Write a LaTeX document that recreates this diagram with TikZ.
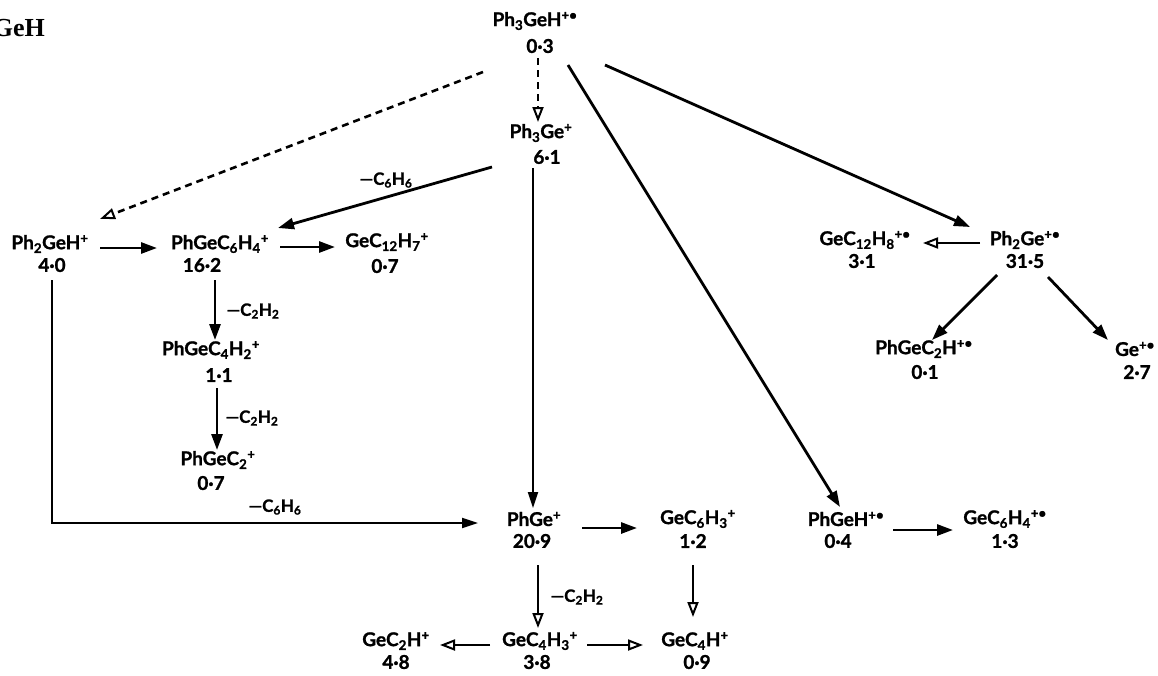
\documentclass[tikz,border=0pt]{standalone}
\usepackage{fontspec}
\setmainfont{Lato}[BoldFeatures={FakeBold=1.2}]
\newfontfamily\titlefont{Liberation Serif}
\usetikzlibrary{arrows.meta}
\begin{document}
\begin{tikzpicture}[x=1pt,y=-1pt,
  sp/.style={inner sep=0pt, font=\fontsize{19}{19}\selectfont\bfseries},
  num/.style={inner sep=0pt, font=\fontsize{19}{19}\selectfont\bfseries},
  lab/.style={inner sep=0pt, font=\fontsize{17}{17}\selectfont\bfseries},
  arr/.style={line width=2.8pt, -{Triangle[length=16pt,width=11pt]}},
  oarr/.style={line width=2.8pt, -{Triangle[open,length=15pt,width=11pt,line width=2pt]}},
  thinarr/.style={line width=2.1pt, -{Triangle[length=16pt,width=10pt]}},
  dsh/.style={line width=2.6pt, dash pattern=on 7pt off 5pt, -{Triangle[open,length=15pt,width=11pt,line width=2pt]}}]
\useasboundingbox (0,0) rectangle (1158,675);
\fill[white] (0,0) rectangle (1158,675);

\node[anchor=east, inner sep=0pt, font=\fontsize{26}{26}\selectfont\titlefont\bfseries] (title) at (45,28) {GeH};

% species
\node[sp] (A) at (535,21) {Ph\textsubscript{3}GeH\textsuperscript{+•}};
\node[num] (An) at (540,46) {0·3};
\node[sp] (B) at (541,133) {Ph\textsubscript{3}Ge\textsuperscript{+}};
\node[num] (Bn) at (547,157) {6·1};
\node[sp] (C) at (50,244) {Ph\textsubscript{2}GeH\textsuperscript{+}};
\node[num] (Cn) at (52,265) {4·0};
\node[sp] (D) at (220,244) {PhGeC\textsubscript{6}H\textsubscript{4}\textsuperscript{+}};
\node[num] (Dn) at (202,265) {16·2};
\node[sp] (E) at (387,242) {GeC\textsubscript{12}H\textsubscript{7}\textsuperscript{+}};
\node[num] (En) at (385,266) {0·7};
\node[sp] (F) at (211,350) {PhGeC\textsubscript{4}H\textsubscript{2}\textsuperscript{+}};
\node[num] (Fn) at (219,375) {1·1};
\node[sp] (G) at (218,460) {PhGeC\textsubscript{2}\textsuperscript{+}};
\node[num] (Gn) at (211,483) {0·7};
\node[sp] (H) at (865,240) {GeC\textsubscript{12}H\textsubscript{8}\textsuperscript{+•}};
\node[num] (Hn) at (862,261) {3·1};
\node[sp] (I) at (1025,240) {Ph\textsubscript{2}Ge\textsuperscript{+•}};
\node[num] (In) at (1025,261) {31·5};
\node[sp] (J) at (924,349) {PhGeC\textsubscript{2}H\textsuperscript{+•}};
\node[num] (Jn) at (925,372) {0·1};
\node[sp] (K) at (1135,349) {Ge\textsuperscript{+•}};
\node[num] (Kn) at (1137,372) {2·7};
\node[sp] (L) at (534,519) {PhGe\textsuperscript{+}};
\node[num] (Ln) at (532,541) {20·9};
\node[sp] (M) at (698,519) {GeC\textsubscript{6}H\textsubscript{3}\textsuperscript{+}};
\node[num] (Mn) at (693,541) {1·2};
\node[sp] (N) at (846,519) {PhGeH\textsuperscript{+•}};
\node[num] (Nn) at (838,541) {0·4};
\node[sp] (O) at (1005,519) {GeC\textsubscript{6}H\textsubscript{4}\textsuperscript{+•}};
\node[num] (On) at (1005,541) {1·3};
\node[sp] (P) at (396,641) {GeC\textsubscript{2}H\textsuperscript{+}};
\node[num] (Pn) at (396,662) {4·8};
\node[sp] (Q) at (540,641) {GeC\textsubscript{4}H\textsubscript{3}\textsuperscript{+}};
\node[num] (Qn) at (537,662) {3·8};
\node[sp] (R) at (695,641) {GeC\textsubscript{4}H\textsuperscript{+}};
\node[num] (Rn) at (697,662) {0·9};

% labels
\node[lab] (l1) at (386,180) {—C\textsubscript{6}H\textsubscript{6}};
\node[lab] (l2) at (253,311) {—C\textsubscript{2}H\textsubscript{2}};
\node[lab] (l3) at (252,418) {—C\textsubscript{2}H\textsubscript{2}};
\node[lab] (l4) at (275,507) {—C\textsubscript{6}H\textsubscript{6}};
\node[lab] (l5) at (577,597) {—C\textsubscript{2}H\textsubscript{2}};

% connectors
\draw[dsh] ([xshift=-2pt,yshift=-12pt]An.center) -- ([xshift=-3pt,yshift=11pt]B.center);
\draw[dsh] ([xshift=-52pt,yshift=-51pt]A.center) -- ([xshift=50pt,yshift=25pt]C.center);
\draw[arr] ([xshift=33pt,yshift=-44pt]A.center) -- ([xshift=-6pt,yshift=12pt]N.center);
\draw[arr] ([xshift=70pt,yshift=-44pt]A.center) -- ([xshift=-55pt,yshift=13pt]I.center);
\draw[arr] ([xshift=-49pt,yshift=-34pt]B.center) -- ([xshift=58pt,yshift=16pt]D.center);
\draw[thinarr] ([xshift=-14pt,yshift=-11pt]Bn.center) -- ([xshift=-1pt,yshift=11pt]L.center);
\draw[arr] ([xshift=50pt,yshift=-4pt]C.center) -- ([xshift=-63pt,yshift=-4pt]D.center);
\draw[arr] ([xshift=60pt,yshift=-3pt]D.center) -- ([xshift=-52pt,yshift=-5pt]E.center);
\draw[arr] ([xshift=13pt,yshift=-15pt]Dn.center) -- ([xshift=4pt,yshift=10pt]F.center);
\draw[arr] ([xshift=-2pt,yshift=-13pt]Fn.center) -- ([xshift=-1pt,yshift=10pt]G.center);
\draw[thinarr] ([yshift=-15pt]Cn.center) |- ([xshift=-56pt,yshift=-4pt]L.center);
\draw[oarr] ([xshift=-45pt,yshift=-3pt]I.center) -- ([xshift=58pt,yshift=-3pt]H.center);
\draw[arr] ([xshift=-28pt,yshift=-14pt]In.center) -- ([xshift=8pt,yshift=9pt]J.center);
\draw[arr] ([xshift=23pt,yshift=-16pt]In.center) -- ([xshift=-27pt,yshift=9pt]K.center);
\draw[arr] ([xshift=48pt,yshift=-9pt]L.center) -- ([xshift=-61pt,yshift=-9pt]M.center);
\draw[oarr] ([xshift=6pt,yshift=-24pt]Ln.center) -- ([xshift=-2pt,yshift=13pt]Q.center);
\draw[oarr] ([yshift=-24pt]Mn.center) -- ([xshift=-2pt,yshift=24pt]R.center);
\draw[oarr] ([xshift=47pt,yshift=-4pt]Q.center) -- ([xshift=-52pt,yshift=-4pt]R.center);
\draw[oarr] ([xshift=-50pt,yshift=-4pt]Q.center) -- ([xshift=44pt,yshift=-4pt]P.center);
\draw[arr] ([xshift=47pt,yshift=-11pt]N.center) -- ([xshift=-52pt,yshift=-11pt]O.center);
\end{tikzpicture}
\end{document}
